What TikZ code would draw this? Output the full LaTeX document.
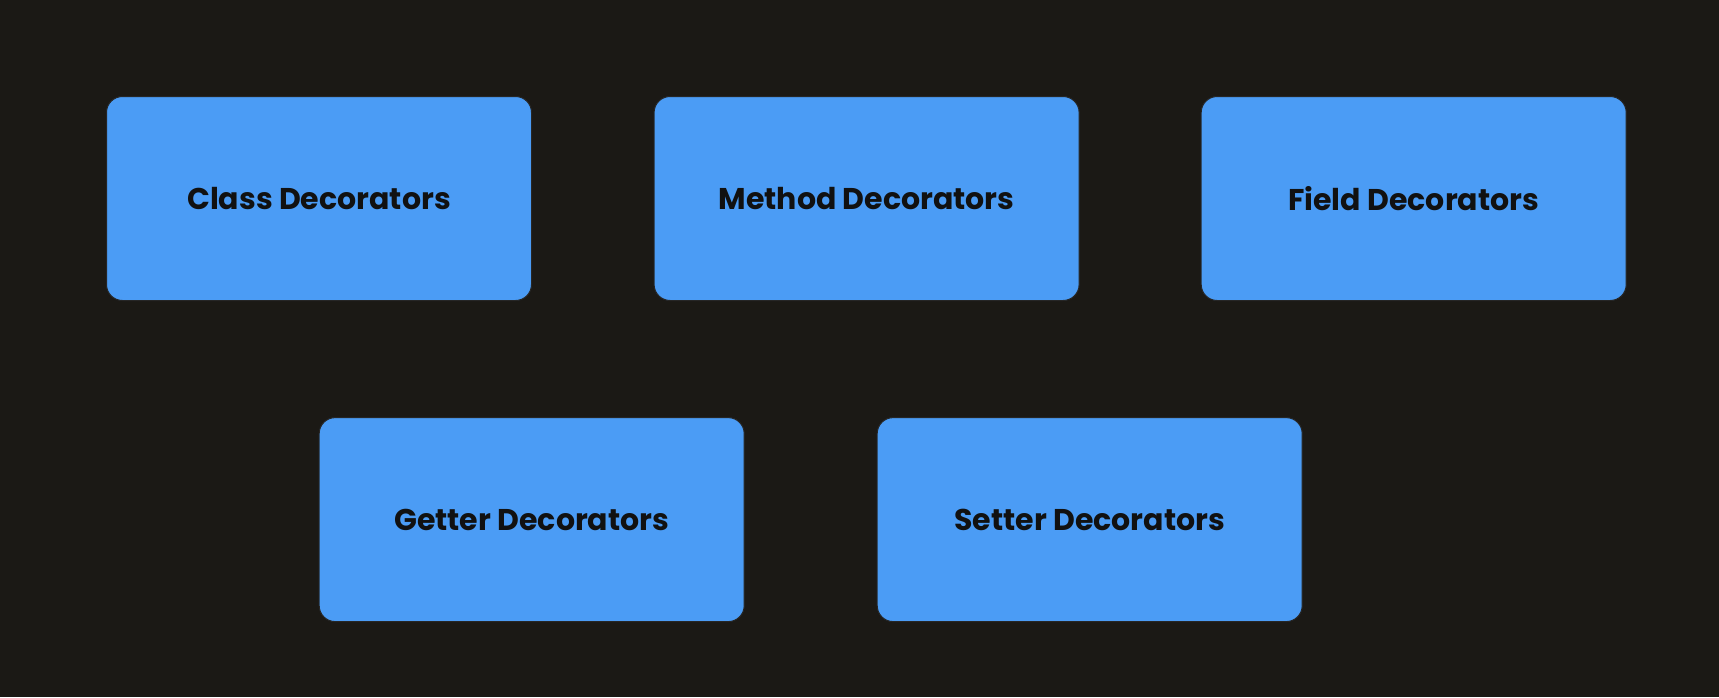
\documentclass[tikz,border=0pt]{standalone}
\usepackage{fontspec}
\setmainfont{Poppins}
\definecolor{bgc}{HTML}{1B1915}
\definecolor{boxc}{HTML}{4B9CF5}
\definecolor{txtc}{HTML}{111111}
\begin{document}
\begin{tikzpicture}[x=1pt,y=-1pt,
  dbox/.style={draw=black!85,line width=1pt,fill=boxc,rounded corners=16pt,minimum width=425pt,minimum height=204pt,inner sep=0pt,text=txtc,font=\fontsize{30}{36}\selectfont\bfseries}]
\fill[bgc] (0,0) rectangle (1719,697);
\useasboundingbox (0,0) rectangle (1719,697);
\node[dbox] (class) at (319,198.5) {Class Decorators};
\node[dbox] (method) at (866.6,198.5) {Method Decorators};
\node[dbox] (field) at (1413.7,198.5) {Field Decorators};
\node[dbox] (getter) at (531.7,519.6) {Getter Decorators};
\node[dbox] (setter) at (1089.7,519.6) {Setter Decorators};
\end{tikzpicture}
\end{document}
